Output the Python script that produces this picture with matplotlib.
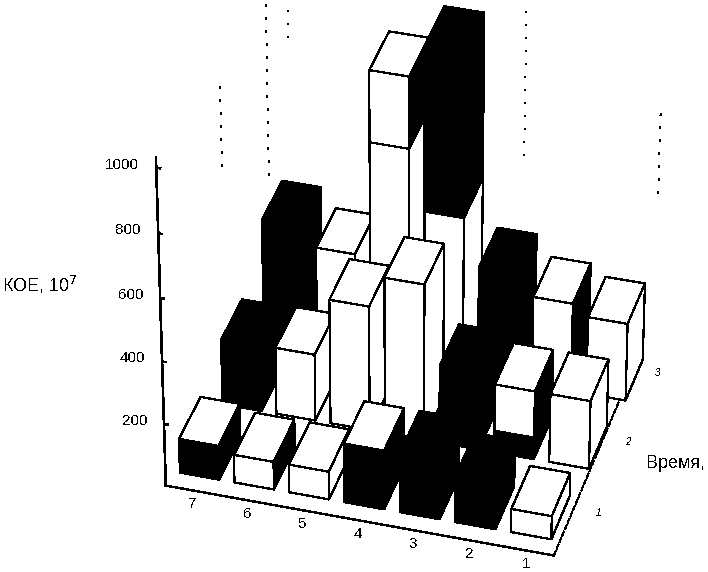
#!/usr/bin/env python3
import numpy as np
import matplotlib
matplotlib.use("Agg")
import matplotlib.pyplot as plt

plt.rcParams['font.family'] = ['Liberation Sans', 'DejaVu Sans']
plt.rcParams['text.antialiased'] = False

# data, left to right
days = [7, 6, 5, 4, 3, 2, 1]
rows = [1, 2, 3]
z_ticks = [200, 400, 600, 800, 1000]
row1 = [110, 90, 90, 190, 190, 150, 75]
row2 = [210, 215, 400, 500, 250, 220, 220]
row3 = [385, 325, 915, 1020, 350, 285, 250]
# colours (top, front, right)
col1 = ['wkk', 'wwk', 'www', 'wkk', 'kkk', 'kkk', 'www']
col2 = ['kkk', 'www', 'www', 'www', 'kkk', 'wwk', 'www']
col3 = ['kkk', 'www', 'wwk', 'kkk', 'kkk', 'wwk', 'www']
# lower part of a bar with another colour: (row, day index, height, colours)
lower_parts = [(2, 2, 690, 'www'), (2, 3, 500, 'www'), (1, 5, 70, 'kkk')]

names = {'w': 'white', 'k': 'black'}
row_shift = 0.13


def block(ax, x, y, z0, h, cols, order):
    top, front, right = [names[c] for c in cols]
    faces = [front, top, front, front, front, right]
    coll = ax.bar3d(x, y, z0, 0.72, 0.6, h, color=faces, edgecolor='black',
                    linewidth=0.9, shade=False, antialiased=False)
    coll.set_zorder(order)


fig = plt.figure(figsize=(7.08, 5.72), dpi=100)
ax = fig.add_axes([0.012, -0.066, 1.1, 1.3], projection='3d')
ax.computed_zorder = False
ax.set_proj_type('persp', focal_length=1.5)
ax.view_init(elev=36, azim=-74)
ax.set_box_aspect((4.33, 3.85, 5.05), zoom=0.937)
ax.set_xlim(0, 7)
ax.set_ylim(0, 3)
ax.set_zlim(0, 1200)
ax.set_xticks([])
ax.set_yticks([])
ax.set_zticks([])
ax.set_axis_off()

# frame lines
ax.plot([0, 7], [0, 0], [0, 0], color='black', lw=1, antialiased=False, zorder=1)
ax.plot([7, 7], [0, 3], [0, 0], color='black', lw=1, ls=(0, (4, 1)), antialiased=False, zorder=1)
ax.plot([0, 0], [0, 0], [0, 1030], color='black', lw=1.2, antialiased=False, zorder=1)

# dotted walls behind the bars
for xg, z0, z1 in [(0, 350, 1200), (0.4, 800, 1000), (4.75, 550, 1200), (7.2, 500, 760)]:
    ax.plot([xg, xg], [3, 3], [z0, z1], color='black', lw=0.8, ls=(0, (1, 10)),
            antialiased=False, zorder=1)
ax.plot([0, 0], [1.7, 1.7], [650, 900], color='black', lw=0.8, ls=(0, (1, 10)),
        antialiased=False, zorder=1)

order = 2
for r, vals, cols in [(2, row3, col3), (1, row2, col2), (0, row1, col1)]:
    for i, d in enumerate(days):
        low = 0
        x0, y0 = i + 0.125 + r * row_shift, r + 0.2
        for pr, pi, h, c in lower_parts:
            if pr == r and pi == i:
                block(ax, x0, y0, 0, h, c, order)
                order += 1
                low = h
        block(ax, x0, y0, low, vals[i] - low, cols[i], order)
        order += 1
        if low and cols[i][1] == 'w' and c[1] == 'w':
            # no seam on the white front
            ax.plot([x0 + 0.02, x0 + 0.70], [y0, y0], [low, low], color='white', lw=1.6,
                    antialiased=False, zorder=order)
            order += 1

for i, d in enumerate(days):
    ax.text(i + 0.6, -0.17, 0, str(d), fontsize=11, ha='center', va='center')
for r in rows:
    ax.text(7.45, r - 0.35, 0, str(r), fontsize=7, ha='center', va='center', style='italic')
for t in z_ticks:
    ax.plot([0, 0.07], [0, 0], [t, t], color='black', lw=1, antialiased=False, zorder=1)
    ax.text(-0.3, 0, t, str(t), fontsize=11, ha='right', va='center')

fig.text(2 / 708, 1 - 285 / 572, 'КОЕ, 10$^7$', fontsize=13, ha='left', va='center')
fig.text(646 / 708, 1 - 463 / 572, 'Время,', fontsize=13, ha='left', va='center')

fig.savefig('out.png', dpi=100)
